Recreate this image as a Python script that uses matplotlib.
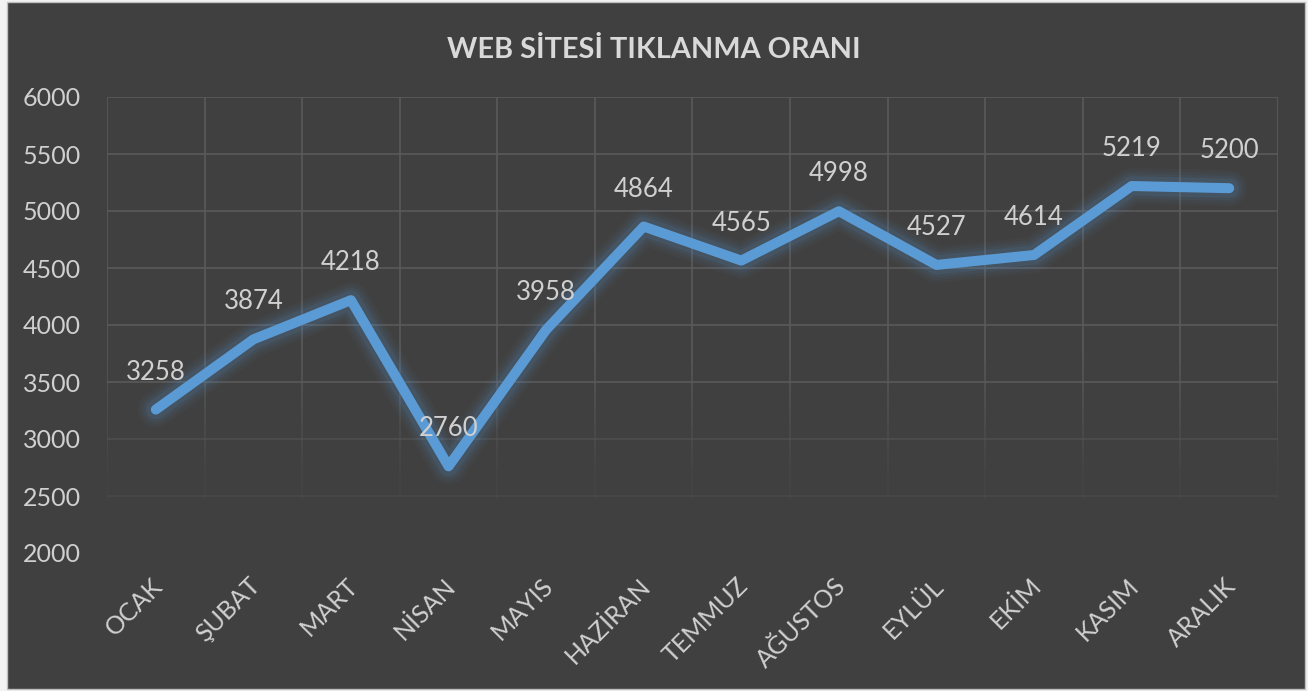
import matplotlib
matplotlib.use("Agg")
import matplotlib.pyplot as plt
from matplotlib.patches import Rectangle
from matplotlib.collections import LineCollection
import matplotlib.transforms as mtrans
import numpy as np

months = ["OCAK", "ŞUBAT", "MART", "NİSAN", "MAYIS", "HAZİRAN", "TEMMUZ",
          "AĞUSTOS", "EYLÜL", "EKİM", "KASIM", "ARALIK"]
clicks = [3258, 3874, 4218, 2760, 3958, 4864, 4565, 4998, 4527, 4614, 5219, 5200]
yticks = [2000, 2500, 3000, 3500, 4000, 4500, 5000, 5500, 6000]
title = "WEB SİTESİ TIKLANMA ORANI"

plt.rcParams['font.family'] = ['Lato', 'DejaVu Sans']

W, H = 1308, 691
fig = plt.figure(figsize=(W / 100, H / 100), dpi=100, facecolor="#f2f2f2")
bg = "#404040"
fig.patches.append(Rectangle((7 / W, 2 / H), (1305 - 7) / W, (689 - 2) / H,
                             transform=fig.transFigure, facecolor=bg,
                             edgecolor="#bfbfbf", linewidth=1.0, zorder=-10))

left, right = 107 / W, 1278 / W
bottom, top = (H - 553) / H, (H - 97) / H
ax = fig.add_axes([left, bottom, right - left, top - bottom])
ax.set_zorder(5)
ax.set_facecolor("none")
for s in ax.spines.values():
    s.set_visible(False)

n = len(months)
x = np.arange(n)
ax.set_xlim(-0.5, n - 0.5)
ax.set_ylim(2000, 6000)

# gridlines (fade towards the bottom)
gc = "#5a5a5a"
for yv in yticks[1:]:
    a = 1.0 if yv >= 3500 else (0.55 if yv == 3000 else 0.3)
    ax.plot([-0.5, n - 0.5], [yv, yv], color=gc, lw=1.2, alpha=a, zorder=1,
            solid_capstyle="butt")
steps = np.linspace(2470, 6000, 40)
for b in np.arange(-0.5, n, 1.0):
    segs = [[(b, steps[k]), (b, steps[k + 1])] for k in range(len(steps) - 1)]
    alphas = [min(1.0, max(0.15, (0.5 * (steps[k] + steps[k + 1]) - 2470) / 1300))
              for k in range(len(steps) - 1)]
    cols = [(0x5a / 255, 0x5a / 255, 0x5a / 255, a) for a in alphas]
    ax.add_collection(LineCollection(segs, colors=cols, linewidths=1.2, zorder=1))

# glow
lc = "#5b9bd5"
for w, a in [(26, 0.04), (22, 0.05), (18, 0.07), (14, 0.10)]:
    ax.plot(x, clicks, color=lc, lw=w, alpha=a, solid_capstyle="round",
            solid_joinstyle="round", zorder=2)
ax.plot(x, clicks, color=lc, lw=7.2, solid_capstyle="round",
        solid_joinstyle="round", zorder=3)

tc = "#d0d0d0"
for xi, v in zip(x, clicks):
    ax.annotate(str(v), (xi, v), xytext=(0, 27), textcoords="offset points",
                ha="center", va="center", fontsize=18.5, color=tc, zorder=4)

ax.set_yticks(yticks)
ax.set_yticklabels([str(v) for v in yticks], fontsize=18, color=tc)
ax.tick_params(axis="y", length=0, pad=19)
ax.set_xticks(x)
ax.set_xticklabels(months, rotation=45, ha="right", rotation_mode="anchor",
                   fontsize=18, color=tc)
ax.tick_params(axis="x", length=0, pad=15)
offset = mtrans.ScaledTranslation(-5 / 100, 0, fig.dpi_scale_trans)
for lab in ax.get_xticklabels():
    lab.set_transform(lab.get_transform() + offset)

fig.text(654 / W, 1 - 50 / H, title, ha="center", va="center", fontsize=20.8,
         fontweight="bold", color="#d9d9d9")

fig.savefig("out.png", dpi=100, facecolor=fig.get_facecolor())
